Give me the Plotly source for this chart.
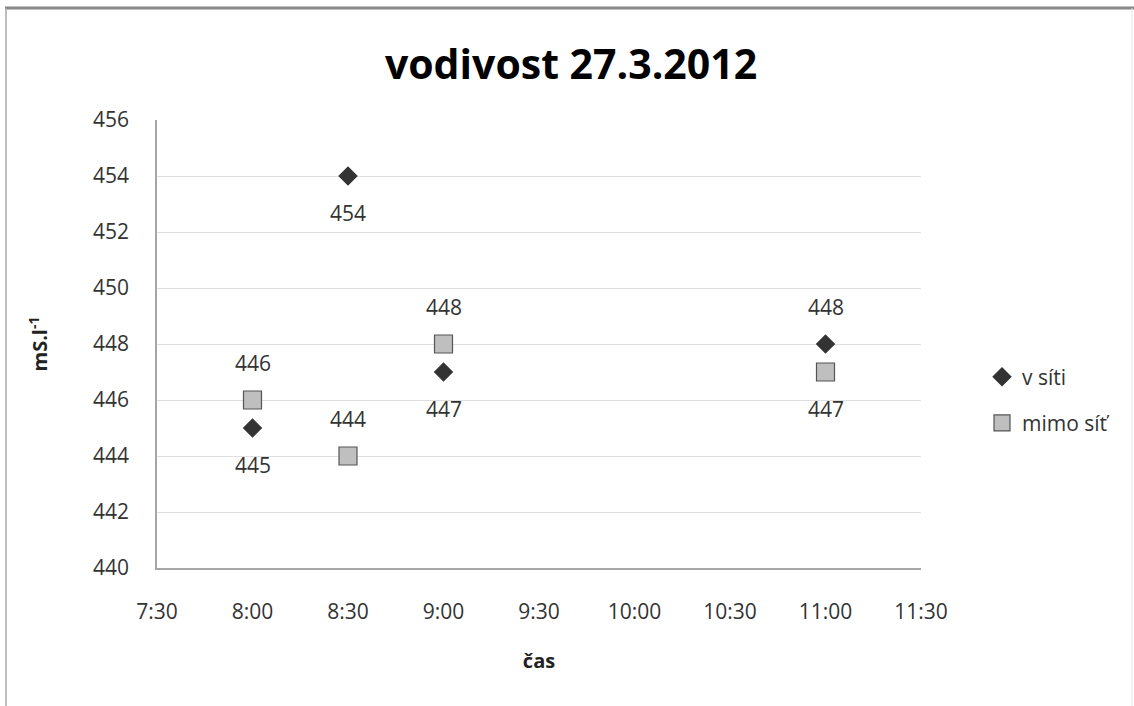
import plotly.graph_objects as go

# Measurement times and conductivity readings
casy = ["8:00", "8:30", "9:00", "11:00"]
v_siti = [445, 454, 447, 448]
mimo_sit = [446, 444, 448, 447]

# Label placement for each point ("above" / "below")
poz_v_siti = ["below", "below", "below", "above"]
poz_mimo_sit = ["above", "above", "above", "below"]

# Axis ticks
osa_x_ticks = ["7:30", "8:00", "8:30", "9:00", "9:30", "10:00", "10:30", "11:00", "11:30"]
osa_y_ticks = [440, 442, 444, 446, 448, 450, 452, 454, 456]


def na_hodiny(t):
    h, m = t.split(":")
    return int(h) + int(m) / 60.0


x_vals = [na_hodiny(t) for t in casy]
x_ticks = [na_hodiny(t) for t in osa_x_ticks]

FONT = "Open Sans"
W, H = 1134, 706
ML, MR, MT, MB = 157, 213, 120, 138
PW = W - ML - MR
PH = H - MT - MB

fig = go.Figure()

fig.add_trace(go.Scatter(
    x=x_vals, y=v_siti, mode="markers", name="v síti",
    legendgroup="a",
    marker=dict(symbol="diamond", size=15, color="#333333",
                line=dict(width=0)),
))
fig.add_trace(go.Scatter(
    x=x_vals, y=mimo_sit, mode="markers", name="mimo síť",
    legendgroup="b",
    marker=dict(symbol="square", size=18, color="#bfbfbf",
                line=dict(width=1.2, color="#555555")),
))

# Value labels next to each point
for xs, ys, poz in ((x_vals, v_siti, poz_v_siti), (x_vals, mimo_sit, poz_mimo_sit)):
    for xv, yv, p in zip(xs, ys, poz):
        fig.add_annotation(
            x=xv, y=yv, text=str(yv), showarrow=False,
            yshift=-37 if p == "below" else 37,
            font=dict(family=FONT, size=21, color="#333333"),
        )


def px_x(p):
    return (p - ML) / PW


def px_y(p):
    return (H - MB - p) / PH


# Outer chart frame
fig.add_shape(type="line", xref="paper", yref="paper",
              x0=px_x(5), x1=px_x(1134), y0=px_y(8), y1=px_y(8),
              line=dict(color="#888888", width=3))
fig.add_shape(type="line", xref="paper", yref="paper",
              x0=px_x(6), x1=px_x(6), y0=px_y(8), y1=px_y(720),
              line=dict(color="#aaaaaa", width=1.5))
fig.add_shape(type="line", xref="paper", yref="paper",
              x0=px_x(1132), x1=px_x(1132), y0=px_y(8), y1=px_y(720),
              line=dict(color="#e6e6e6", width=1))

fig.update_layout(
    width=W, height=H,
    margin=dict(l=ML, r=MR, t=MT, b=MB),
    paper_bgcolor="white", plot_bgcolor="white",
    title=dict(text="<b>vodivost 27.3.2012</b>", x=px_x(571), xanchor="center",
               xref="paper", y=1 - 65 / H, yanchor="middle",
               font=dict(family=FONT, size=41, color="#000000")),
    xaxis=dict(
        range=[x_ticks[0], x_ticks[-1]], tickvals=x_ticks, ticktext=osa_x_ticks,
        showgrid=False, zeroline=False, showline=True, linecolor="#a6a6a6",
        linewidth=1.5, ticks="", ticklen=0, ticklabelstandoff=24,
        tickfont=dict(family=FONT, size=21, color="#333333"),
        title=dict(text="<b>čas</b>", standoff=30,
                   font=dict(family=FONT, size=20, color="#222222")),
    ),
    yaxis=dict(
        range=[osa_y_ticks[0], osa_y_ticks[-1]], tickvals=osa_y_ticks,
        showgrid=True, gridcolor="#dedede", gridwidth=1,
        zeroline=False, showline=True, linecolor="#a6a6a6", linewidth=1.5,
        ticks="", ticklen=0, ticklabelstandoff=22,
        tickfont=dict(family=FONT, size=21, color="#333333"),
        title=dict(text="<b>mS.l<sup>-1</sup></b>", standoff=40,
                   font=dict(family=FONT, size=20, color="#222222")),
    ),
    legend=dict(
        x=px_x(982), xanchor="left", y=px_y(400), yanchor="middle",
        font=dict(family=FONT, size=21, color="#333333"),
        tracegroupgap=16, bgcolor="rgba(0,0,0,0)",
    ),
)

fig.write_html("out.html")
